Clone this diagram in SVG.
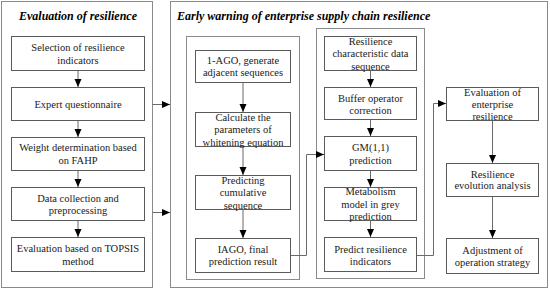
<svg xmlns="http://www.w3.org/2000/svg" width="550" height="291" viewBox="0 0 550 291">
<style>
.frame{fill:none;stroke:#8a8a8a;stroke-width:1}
.box{fill:#fff;stroke:#5a5a5a;stroke-width:1}
.conn{fill:none;stroke:#6a6a6a;stroke-width:1}
.t{font-family:"Liberation Serif","Times New Roman",serif;font-size:10.5px;fill:#1a1a1a;text-anchor:middle}
.title{font-family:"Liberation Serif","Times New Roman",serif;font-size:12px;font-weight:bold;font-style:italic;fill:#000}
</style>
<defs>
<marker id="ah" markerUnits="userSpaceOnUse" markerWidth="9" markerHeight="8" refX="8" refY="3.5" orient="auto">
<path d="M0,0 L8,3.5 L0,7 z" fill="#000"/>
</marker>
</defs>
<rect fill="#fff" x="0" y="0" width="550" height="291"/>
<g id="frame-left">
<rect class="frame" x="1.5" y="1.5" width="151" height="286"/>
<text class="title" x="78" y="19.5" text-anchor="middle">Evaluation of resilience</text>
</g>
<g id="frame-right">
<rect class="frame" x="170.5" y="1.5" width="377" height="286"/>
<text class="title" x="177" y="19.5">Early warning of enterprise supply chain resilience</text>
</g>
<g id="frame-inner1"><rect class="frame" x="186.5" y="36.5" width="113" height="243"/></g>
<g id="frame-inner2"><rect class="frame" x="316.5" y="28.5" width="108" height="250"/></g>
<g id="connectors">
<path class="conn" d="M78,70.5V87" marker-end="url(#ah)"/>
<path class="conn" d="M78,120.5V137" marker-end="url(#ah)"/>
<path class="conn" d="M78,170.5V187" marker-end="url(#ah)"/>
<path class="conn" d="M78,220.5V237" marker-end="url(#ah)"/>
<path class="conn" d="M152.5,104.5H170" marker-end="url(#ah)"/>
<path class="conn" d="M152.5,212.5H170" marker-end="url(#ah)"/>
<path class="conn" d="M243,82.5V112" marker-end="url(#ah)"/>
<path class="conn" d="M243,146.5V175" marker-end="url(#ah)"/>
<path class="conn" d="M243,209.5V238" marker-end="url(#ah)"/>
<path class="conn" d="M290.5,255.5H306.5V154.5H324" marker-end="url(#ah)"/>
<path class="conn" d="M370.5,70.5V87" marker-end="url(#ah)"/>
<path class="conn" d="M370.5,119.5V136" marker-end="url(#ah)"/>
<path class="conn" d="M370.5,170.5V187" marker-end="url(#ah)"/>
<path class="conn" d="M370.5,220.5V237" marker-end="url(#ah)"/>
<path class="conn" d="M416.5,255.5H433.5V103.5H446" marker-end="url(#ah)"/>
<path class="conn" d="M492.5,120.5V163" marker-end="url(#ah)"/>
<path class="conn" d="M492.5,196.5V238" marker-end="url(#ah)"/>
</g>
<g id="n-selection">
<rect class="box" x="11.5" y="36.5" width="133" height="34"/>
<text class="t" x="78" y="51">Selection of resilience</text>
<text class="t" x="78" y="63.7">indicators</text>
</g>
<g id="n-expert">
<rect class="box" x="11.5" y="87.5" width="133" height="33"/>
<text class="t" x="78" y="107.5">Expert questionnaire</text>
</g>
<g id="n-weight">
<rect class="box" x="11.5" y="137.5" width="133" height="33"/>
<text class="t" x="78" y="151.4">Weight determination based</text>
<text class="t" x="78" y="164">on FAHP</text>
</g>
<g id="n-data">
<rect class="box" x="11.5" y="187.5" width="133" height="33"/>
<text class="t" x="78" y="201.7">Data collection and</text>
<text class="t" x="78" y="214.3">preprocessing</text>
</g>
<g id="n-topsis">
<rect class="box" x="11.5" y="237.5" width="133" height="34"/>
<text class="t" x="78" y="252">Evaluation based on TOPSIS</text>
<text class="t" x="78" y="264.7">method</text>
</g>
<g id="n-1ago">
<rect class="box" x="195.5" y="50.5" width="95" height="32"/>
<text class="t" x="243" y="64.4">1-AGO, generate</text>
<text class="t" x="243" y="76.2">adjacent sequences</text>
</g>
<g id="n-calc">
<rect class="box" x="195.5" y="112.5" width="95" height="34"/>
<text class="t" x="243" y="120.7">Calculate the</text>
<text class="t" x="243" y="133.2">parameters of</text>
<text class="t" x="243" y="145.7">whitening equation</text>
</g>
<g id="n-predcum">
<rect class="box" x="195.5" y="175.5" width="95" height="34"/>
<text class="t" x="243" y="183.7">Predicting</text>
<text class="t" x="243" y="196.2">cumulative</text>
<text class="t" x="243" y="208.7">sequence</text>
</g>
<g id="n-iago">
<rect class="box" x="195.5" y="238.5" width="95" height="34"/>
<text class="t" x="243" y="253.2">IAGO, final</text>
<text class="t" x="243" y="264.7">prediction result</text>
</g>
<g id="n-charseq">
<rect class="box" x="324.5" y="36.5" width="92" height="34"/>
<text class="t" x="370.5" y="44.7">Resilience</text>
<text class="t" x="370.5" y="57.2">characteristic data</text>
<text class="t" x="370.5" y="69.7">sequence</text>
</g>
<g id="n-buffer">
<rect class="box" x="324.5" y="87.5" width="92" height="32"/>
<text class="t" x="370.5" y="101.7">Buffer operator</text>
<text class="t" x="370.5" y="113.7">correction</text>
</g>
<g id="n-gm">
<rect class="box" x="324.5" y="136.5" width="92" height="34"/>
<text class="t" x="370.5" y="151.4">GM(1,1)</text>
<text class="t" x="370.5" y="163.7">prediction</text>
</g>
<g id="n-metab">
<rect class="box" x="324.5" y="187.5" width="92" height="33"/>
<text class="t" x="370.5" y="195.4">Metabolism</text>
<text class="t" x="370.5" y="208">model in grey</text>
<text class="t" x="370.5" y="220.4">prediction</text>
</g>
<g id="n-predict">
<rect class="box" x="324.5" y="237.5" width="92" height="34"/>
<text class="t" x="370.5" y="252.7">Predict resilience</text>
<text class="t" x="370.5" y="264.7">indicators</text>
</g>
<g id="n-evalent">
<rect class="box" x="446.5" y="87.5" width="92" height="33"/>
<text class="t" x="492.5" y="96.2">Evaluation of</text>
<text class="t" x="492.5" y="108.2">enterprise</text>
<text class="t" x="492.5" y="120.2">resilience</text>
</g>
<g id="n-evol">
<rect class="box" x="446.5" y="163.5" width="92" height="33"/>
<text class="t" x="492.5" y="177.7">Resilience</text>
<text class="t" x="492.5" y="189.4">evolution analysis</text>
</g>
<g id="n-adjust">
<rect class="box" x="446.5" y="238.5" width="92" height="35"/>
<text class="t" x="492.5" y="253.7">Adjustment of</text>
<text class="t" x="492.5" y="266.4">operation strategy</text>
</g>
</svg>
